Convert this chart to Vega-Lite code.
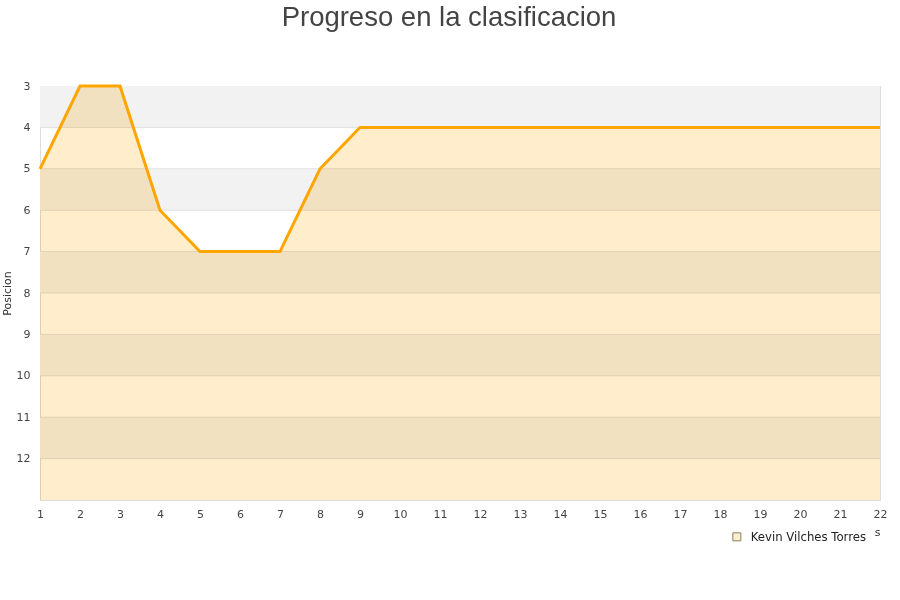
{
  "$schema": "https://vega.github.io/schema/vega-lite/v6.json",
  "autosize": {"type": "none"},
  "padding": {"left": 40, "top": 86, "right": 20, "bottom": 100},
  "width": 840,
  "height": 414,
  "background": "white",
  "title": {
    "text": "Progreso en la clasificacion",
    "font": "Liberation Sans",
    "fontSize": 27.5,
    "fontWeight": "normal",
    "color": "#444444",
    "anchor": "middle",
    "dx": -11,
    "offset": 49
  },
  "config": {
    "view": {"stroke": "#dddddd", "strokeWidth": 1},
    "axis": {
      "labelFont": "DejaVu Sans",
      "labelFontSize": 11,
      "labelColor": "#444444",
      "titleFont": "DejaVu Sans",
      "titleFontSize": 11,
      "titleFontWeight": "normal",
      "titleColor": "#333333",
      "domain": false,
      "ticks": false,
      "grid": false,
      "labelOverlap": false,
      "labelFlush": false
    }
  },
  "datasets": {
    "bands": [
      {"desde": 3, "hasta": 4},
      {"desde": 5, "hasta": 6},
      {"desde": 7, "hasta": 8},
      {"desde": 9, "hasta": 10},
      {"desde": 11, "hasta": 12}
    ],
    "niveles": [
      {"nivel": 4}, {"nivel": 5}, {"nivel": 6}, {"nivel": 7}, {"nivel": 8},
      {"nivel": 9}, {"nivel": 10}, {"nivel": 11}, {"nivel": 12}
    ],
    "progreso": [
      {"jornada": 1, "posicion": 5, "jugador": "Kevin Vilches Torres"},
      {"jornada": 2, "posicion": 3, "jugador": "Kevin Vilches Torres"},
      {"jornada": 3, "posicion": 3, "jugador": "Kevin Vilches Torres"},
      {"jornada": 4, "posicion": 6, "jugador": "Kevin Vilches Torres"},
      {"jornada": 5, "posicion": 7, "jugador": "Kevin Vilches Torres"},
      {"jornada": 6, "posicion": 7, "jugador": "Kevin Vilches Torres"},
      {"jornada": 7, "posicion": 7, "jugador": "Kevin Vilches Torres"},
      {"jornada": 8, "posicion": 5, "jugador": "Kevin Vilches Torres"},
      {"jornada": 9, "posicion": 4, "jugador": "Kevin Vilches Torres"},
      {"jornada": 10, "posicion": 4, "jugador": "Kevin Vilches Torres"},
      {"jornada": 11, "posicion": 4, "jugador": "Kevin Vilches Torres"},
      {"jornada": 12, "posicion": 4, "jugador": "Kevin Vilches Torres"},
      {"jornada": 13, "posicion": 4, "jugador": "Kevin Vilches Torres"},
      {"jornada": 14, "posicion": 4, "jugador": "Kevin Vilches Torres"},
      {"jornada": 15, "posicion": 4, "jugador": "Kevin Vilches Torres"},
      {"jornada": 16, "posicion": 4, "jugador": "Kevin Vilches Torres"},
      {"jornada": 17, "posicion": 4, "jugador": "Kevin Vilches Torres"},
      {"jornada": 18, "posicion": 4, "jugador": "Kevin Vilches Torres"},
      {"jornada": 19, "posicion": 4, "jugador": "Kevin Vilches Torres"},
      {"jornada": 20, "posicion": 4, "jugador": "Kevin Vilches Torres"},
      {"jornada": 21, "posicion": 4, "jugador": "Kevin Vilches Torres"},
      {"jornada": 22, "posicion": 4, "jugador": "Kevin Vilches Torres"}
    ]
  },
  "resolve": {"scale": {"y": "shared", "x": "shared"}},
  "layer": [
    {
      "data": {"name": "bands"},
      "mark": {"type": "rect", "color": "#f2f2f2"},
      "encoding": {
        "y": {
          "field": "desde",
          "type": "quantitative",
          "scale": {"domain": [3, 13], "reverse": true, "nice": false, "zero": false},
          "axis": {
            "title": "Posicion",
            "values": [3, 4, 5, 6, 7, 8, 9, 10, 11, 12],
            "labelPadding": 10,
            "titleX": -30,
            "titleY": 207,
            "titleAngle": 270,
            "titleAlign": "center",
            "titleBaseline": "alphabetic"
          }
        },
        "y2": {"field": "hasta"}
      }
    },
    {
      "data": {"name": "niveles"},
      "mark": {"type": "rule", "color": "#e0e0e0", "strokeWidth": 1},
      "encoding": {
        "y": {"field": "nivel", "type": "quantitative"}
      }
    },
    {
      "data": {"name": "progreso"},
      "mark": {"type": "area", "blend": "multiply", "interpolate": "linear"},
      "encoding": {
        "x": {
          "field": "jornada",
          "type": "quantitative",
          "scale": {"domain": [1, 22], "nice": false, "zero": false},
          "axis": {
            "title": "Jornadas",
            "values": [1, 2, 3, 4, 5, 6, 7, 8, 9, 10, 11, 12, 13, 14, 15, 16, 17, 18, 19, 20, 21, 22],
            "labelOverlap": false,
            "labelSeparation": 0,
            "labelBound": false,
            "labelPadding": 8,
            "titleAnchor": "end",
            "titleAlign": "right",
            "titleX": 840,
            "titleY": 35,
            "titleBaseline": "alphabetic"
          }
        },
        "y": {"field": "posicion", "type": "quantitative"},
        "y2": {"datum": 13},
        "color": {
          "field": "jugador",
          "type": "nominal",
          "scale": {"range": ["#ffedcc"]},
          "legend": {
            "title": null,
            "orient": "none",
            "legendX": 684,
            "legendY": 438,
            "fillColor": "white",
            "padding": 7,
            "symbolType": "square",
            "symbolSize": 64,
            "symbolStrokeColor": "#8c7d62",
            "symbolStrokeWidth": 1,
            "symbolOpacity": 1,
            "labelFont": "DejaVu Sans",
            "labelFontSize": 11.7,
            "labelColor": "#222222",
            "labelOffset": 8
          }
        }
      }
    },
    {
      "data": {"name": "progreso"},
      "mark": {"type": "line", "color": "#ffa500", "strokeWidth": 3, "interpolate": "linear"},
      "encoding": {
        "x": {"field": "jornada", "type": "quantitative", "axis": {"labelOverlap": false, "values": [1, 2, 3, 4, 5, 6, 7, 8, 9, 10, 11, 12, 13, 14, 15, 16, 17, 18, 19, 20, 21, 22]}},
        "y": {"field": "posicion", "type": "quantitative"}
      }
    }
  ]
}
